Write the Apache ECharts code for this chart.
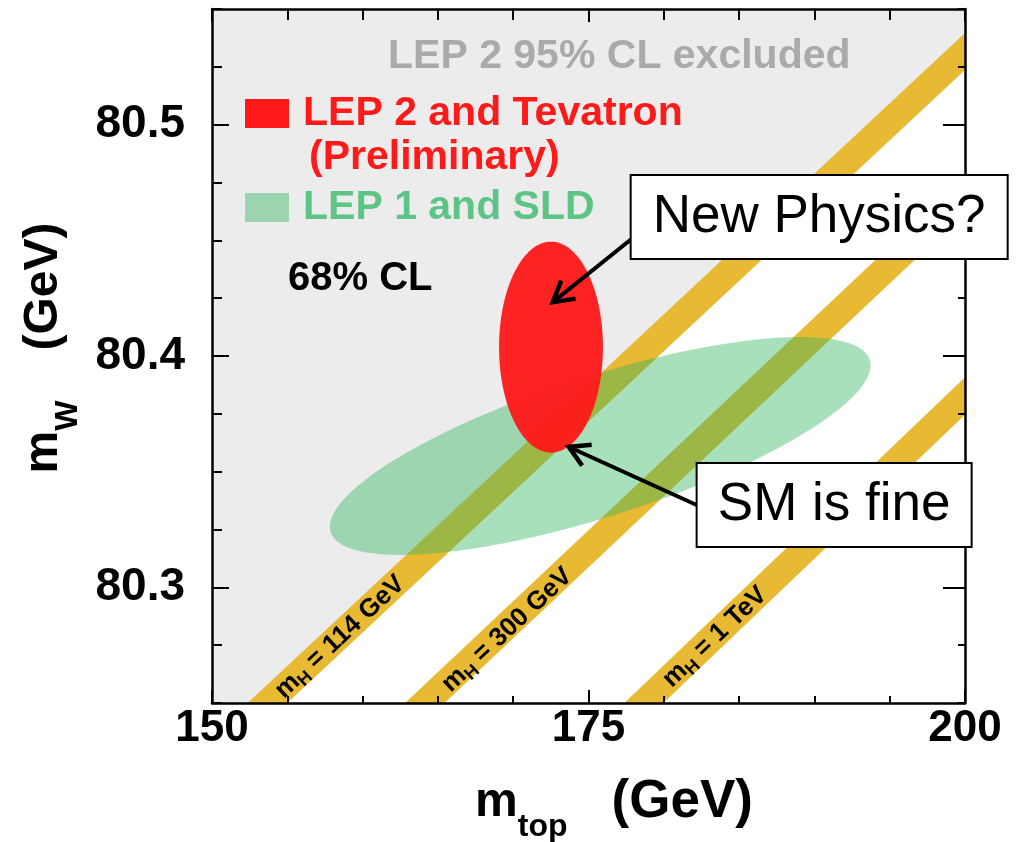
<!DOCTYPE html>
<html>
<head>
<meta charset="utf-8">
<script src="https://cdn.jsdelivr.net/npm/echarts@6/dist/echarts.min.js"></script>
<style>
  html, body { margin: 0; padding: 0; background: #fff; }
  #chart { width: 1023px; height: 842px; }
</style>
</head>
<body>
<div id="chart"></div>
<script>
const FONT = "'Liberation Sans', Arial, Helvetica, sans-serif";

// Axis ranges and labelled ticks
const X_MIN = 150, X_MAX = 200;
const Y_MIN = 80.25, Y_MAX = 80.55;
const xTickValues = [150, 175, 200];
const xTickLabels = ['150', '175', '200'];
const yTickValues = [80.3, 80.4, 80.5];
const yTickLabels = ['80.3', '80.4', '80.5'];

// 68% CL contours: centre (mtop, mW), half-extent along each axis, correlation
const contourNames = ['LEP 1 and SLD', 'LEP 2 and Tevatron'];
const contourCentre = [[175.78, 80.3611], [172.51, 80.4038]];
const contourHalfWidth = [[17.95, 0.0471], [3.45, 0.0456]];
const contourCorrelation = [0.74, 0.0];

// SM bands at fixed Higgs mass: mtop where each meets mW = 80.25, mW where each meets mtop = 200
const higgsMassLabels = ['114 GeV', '300 GeV', '1 TeV'];
const bandStartMtop = [153.68, 164.13, 178.68];
const bandEndMW = [80.5316, 80.470, 80.3827];
const bandLabelMtop = [158.5, 169.6, 183.4];
const bandLabelMW = [80.2785, 80.2815, 80.2785];

// Callouts: box anchor (left middle), arrow start and arrow tip, in (mtop, mW)
const calloutText = ['New Physics?', 'SM is fine'];
const calloutBox = [[177.80, 80.4601], [182.18, 80.3356]];
const calloutArrowFrom = [[177.94, 80.4510], [182.18, 80.3356]];
const calloutArrowTo = [[172.63, 80.4233], [173.69, 80.3607]];

const BAND_COLOR = '#e8b932';
const RED = '#ff1a1a';
const GREEN_FILL = 'rgba(49,180,95,0.42)';

function tickLabel(values, labels) {
  return function (v) {
    const k = values.findIndex(u => Math.abs(u - v) < 1e-9);
    return k < 0 ? '' : labels[k];
  };
}

// Region allowed by LEP 2 (below the mH = 114 GeV line) is left white
function allowedRegionItem(params, api) {
  const a = api.coord([api.value(0), api.value(1)]);
  const b = api.coord([api.value(2), api.value(3)]);
  const c = api.coord([X_MAX, Y_MIN]);
  return { type: 'polygon', shape: { points: [a, b, c] }, style: { fill: '#ffffff' } };
}

function bandItem(params, api) {
  const a = api.coord([api.value(0), api.value(1)]);
  const b = api.coord([api.value(2), api.value(3)]);
  const dx = b[0] - a[0], dy = b[1] - a[1], len = Math.hypot(dx, dy);
  const ext = 60, ux = dx / len, uy = dy / len;
  return {
    type: 'line',
    shape: { x1: a[0] - ux * ext, y1: a[1] - uy * ext, x2: b[0] + ux * ext, y2: b[1] + uy * ext },
    style: { stroke: BAND_COLOR, lineWidth: 27, lineCap: 'butt' }
  };
}

function contourRenderer(fill) {
  return function (params, api) {
    const cx = api.value(0), cy = api.value(1), sx = api.value(2), sy = api.value(3), r = api.value(4);
    const q = Math.sqrt(1 - r * r), n = 144, pts = [];
    for (let k = 0; k < n; k++) {
      const t = 2 * Math.PI * k / n;
      pts.push(api.coord([cx + sx * Math.cos(t), cy + sy * (r * Math.cos(t) + q * Math.sin(t))]));
    }
    return { type: 'polygon', shape: { points: pts }, style: { fill: fill } };
  };
}

function bandLabelItem(params, api) {
  const i = params.dataIndex;
  const p = api.coord([api.value(0), api.value(1)]);
  const a = api.coord([bandStartMtop[i], Y_MIN]);
  const b = api.coord([X_MAX, bandEndMW[i]]);
  const angle = Math.atan2(a[1] - b[1], b[0] - a[0]);
  return {
    type: 'text', x: p[0], y: p[1], rotation: angle,
    style: {
      text: '{m|m}{h|H}{t| = ' + higgsMassLabels[i] + '}',
      align: 'center', verticalAlign: 'middle',
      rich: {
        m: { fontSize: 26, fontWeight: 'bold', fontFamily: FONT, fill: '#000', lineHeight: 32 },
        h: { fontSize: 18, fontWeight: 'bold', fontFamily: FONT, fill: '#000', lineHeight: 18, verticalAlign: 'bottom' },
        t: { fontSize: 26, fontWeight: 'bold', fontFamily: FONT, fill: '#000', lineHeight: 32 }
      }
    }
  };
}

const CALLOUT_SIZE = [[377, 84], [275, 84]];
function calloutItem(params, api) {
  const i = params.dataIndex;
  const bw = CALLOUT_SIZE[i][0], bh = CALLOUT_SIZE[i][1];
  const b = api.coord(calloutBox[i]);
  const f = api.coord(calloutArrowFrom[i]);
  const t = api.coord(calloutArrowTo[i]);
  const dx = t[0] - f[0], dy = t[1] - f[1], len = Math.hypot(dx, dy);
  const ux = dx / len, uy = dy / len, head = 23, ang = Math.PI / 6;
  const arm = s => [
    t[0] - head * (ux * Math.cos(ang) - s * uy * Math.sin(ang)),
    t[1] - head * (uy * Math.cos(ang) + s * ux * Math.sin(ang))
  ];
  return {
    type: 'group',
    children: [
      { type: 'line', shape: { x1: f[0], y1: f[1], x2: t[0] - ux * 2, y2: t[1] - uy * 2 }, style: { stroke: '#000', lineWidth: 4 } },
      { type: 'polyline', shape: { points: [arm(1), t, arm(-1)] }, style: { stroke: '#000', lineWidth: 4.5, fill: null, lineJoin: 'miter' } },
      { type: 'rect', shape: { x: b[0], y: b[1] - bh / 2, width: bw, height: bh }, style: { fill: '#fff', stroke: '#000', lineWidth: 2 } },
      { type: 'text', x: b[0] + bw / 2, y: b[1], style: { text: calloutText[i], fill: '#000', fontSize: 53, fontFamily: FONT, align: 'center', verticalAlign: 'middle' } }
    ]
  };
}

const axisLine = { show: true, lineStyle: { color: '#000', width: 2.5 } };
const titleRich = (gap, unitSize) => ({
  m: { fontSize: 48, fontWeight: 'bold', fontFamily: FONT, color: '#000', lineHeight: 81 },
  s: { fontSize: 32, fontWeight: 'bold', fontFamily: FONT, color: '#000', lineHeight: 32, verticalAlign: 'bottom' },
  g: { width: gap, lineHeight: 81 },
  u: { fontSize: unitSize, fontWeight: 'bold', fontFamily: FONT, color: '#000', lineHeight: 81 }
});

const chart = echarts.init(document.getElementById('chart'), null, { renderer: 'canvas' });
chart.setOption({
  animation: false,
  backgroundColor: '#ffffff',
  textStyle: { fontFamily: FONT },
  grid: {
    left: 212, right: 58, top: 9, bottom: 139, outerBoundsMode: 'none',
    show: true, backgroundColor: '#ececec', borderWidth: 0
  },
  xAxis: [
    {
      type: 'value', position: 'bottom', min: X_MIN, max: X_MAX, interval: 25, z: 10,
      axisLine: axisLine,
      axisTick: { show: true, inside: true, length: 13, lineStyle: { color: '#000', width: 2 } },
      minorTick: { show: true, splitNumber: 5, length: 7, lineStyle: { color: '#000', width: 2 } },
      splitLine: { show: false }, minorSplitLine: { show: false },
      axisLabel: { margin: 4, fontSize: 44, fontWeight: 'bold', color: '#000', fontFamily: FONT, formatter: tickLabel(xTickValues, xTickLabels) },
      name: '{m|m}{s|top}{g|}{u|(GeV)}', nameLocation: 'middle', nameGap: 59,
      nameTextStyle: { padding: [0, 0, 0, 51], rich: titleRich(44, 53) }
    },
    {
      type: 'value', position: 'top', min: X_MIN, max: X_MAX, interval: 25, z: 10,
      axisLine: axisLine,
      axisTick: { show: true, inside: true, length: 13, lineStyle: { color: '#000', width: 2 } },
      minorTick: { show: true, splitNumber: 5, length: 11, lineStyle: { color: '#000', width: 2 } },
      splitLine: { show: false }, axisLabel: { show: false }
    }
  ],
  yAxis: [
    {
      type: 'value', position: 'left', min: Y_MIN, max: Y_MAX, z: 10,
      axisLine: axisLine,
      axisTick: { show: true, inside: true, length: 17, customValues: yTickValues, lineStyle: { color: '#000', width: 2 } },
      splitLine: { show: false },
      axisLabel: { margin: 27, fontSize: 46, fontWeight: 'bold', color: '#000', fontFamily: FONT, customValues: yTickValues, formatter: tickLabel(yTickValues, yTickLabels) },
      name: '{m|m}{s|W}{g|}{u|(GeV)}', nameLocation: 'middle', nameRotate: 90, nameGap: 126,
      nameTextStyle: { padding: [0, 0, 0, 16], rich: titleRich(50, 48) }
    },
    {
      type: 'value', position: 'left', min: Y_MIN, max: Y_MAX, interval: 0.025, z: 10,
      axisLine: { show: false },
      axisTick: { show: true, inside: true, length: 10, lineStyle: { color: '#000', width: 2 } },
      splitLine: { show: false }, axisLabel: { show: false }
    },
    {
      type: 'value', position: 'right', min: Y_MIN, max: Y_MAX, z: 10,
      axisLine: axisLine,
      axisTick: { show: true, inside: true, length: 22, customValues: yTickValues, lineStyle: { color: '#000', width: 2 } },
      splitLine: { show: false }, axisLabel: { show: false }
    },
    {
      type: 'value', position: 'right', min: Y_MIN, max: Y_MAX, interval: 0.025, z: 10,
      axisLine: { show: false },
      axisTick: { show: true, inside: true, length: 7, lineStyle: { color: '#000', width: 2 } },
      splitLine: { show: false }, axisLabel: { show: false }
    }
  ],
  legend: {
    left: 240, top: 88, orient: 'vertical', icon: 'rect',
    itemWidth: 44, itemHeight: 29, itemGap: 53, selectedMode: false,
    textStyle: { fontSize: 41, fontWeight: 'bold', fontFamily: FONT, lineHeight: 29, padding: [0, 0, 0, 9] },
    data: [
      { name: contourNames[1], itemStyle: { color: RED }, textStyle: { color: RED } },
      { name: contourNames[0], itemStyle: { color: '#9dd4b0', opacity: 1 }, textStyle: { color: '#5ec486' } }
    ]
  },
  graphic: [
    { type: 'text', x: 388, y: 57, z: 100, silent: true,
      style: { text: 'LEP 2 95% CL excluded', fill: '#aaaaaa', fontSize: 41, fontWeight: 'bold', fontFamily: FONT, verticalAlign: 'middle' } },
    { type: 'text', x: 309, y: 158, z: 100, silent: true,
      style: { text: '(Preliminary)', fill: RED, fontSize: 41, fontWeight: 'bold', fontFamily: FONT, verticalAlign: 'middle' } },
    { type: 'text', x: 288, y: 279, z: 100, silent: true,
      style: { text: '68% CL', fill: '#000', fontSize: 40, fontWeight: 'bold', fontFamily: FONT, verticalAlign: 'middle' } }
  ],
  series: [
    {
      name: 'allowed', type: 'custom', silent: true, z: 1,
      renderItem: allowedRegionItem,
      data: [[bandStartMtop[0], Y_MIN, X_MAX, bandEndMW[0]]]
    },
    {
      name: 'SM bands', type: 'custom', silent: true, clip: true, z: 2,
      renderItem: bandItem,
      data: bandStartMtop.map((m, i) => [m, Y_MIN, X_MAX, bandEndMW[i]])
    },
    {
      name: contourNames[0], type: 'custom', silent: true, clip: true, z: 3,
      itemStyle: { color: '#9dd4b0' },
      renderItem: contourRenderer(GREEN_FILL),
      data: [[contourCentre[0][0], contourCentre[0][1], contourHalfWidth[0][0], contourHalfWidth[0][1], contourCorrelation[0]]]
    },
    {
      name: contourNames[1], type: 'custom', silent: true, clip: true, z: 4,
      itemStyle: { color: RED },
      renderItem: contourRenderer('rgba(255,24,24,0.95)'),
      data: [[contourCentre[1][0], contourCentre[1][1], contourHalfWidth[1][0], contourHalfWidth[1][1], contourCorrelation[1]]]
    },
    {
      name: 'band labels', type: 'custom', silent: true, z: 5,
      renderItem: bandLabelItem,
      data: bandLabelMtop.map((m, i) => [m, bandLabelMW[i]])
    },
    {
      name: 'callouts', type: 'custom', silent: true, clip: false, z: 20,
      renderItem: calloutItem,
      data: calloutText.map((t, i) => [i])
    }
  ]
});
</script>
</body>
</html>
